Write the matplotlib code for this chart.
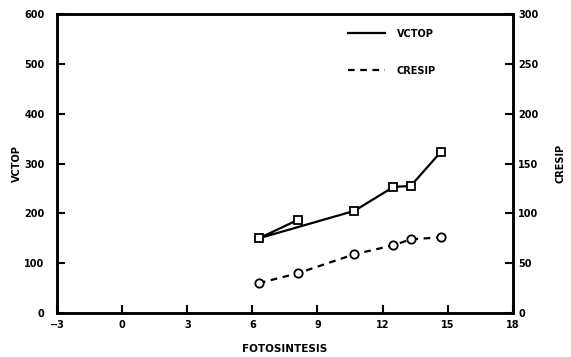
import matplotlib
matplotlib.use("Agg")
import matplotlib.pyplot as plt

# data
vctop_x = [8.1, 6.3, 10.7, 12.5, 13.3, 14.7]
vctop_y = [187, 150, 205, 253, 255, 324]

cresip_x = [6.3, 8.1, 10.7, 12.5, 13.3, 14.7]
cresip_y = [30, 40, 59, 68, 74, 76]

xticks = [-3, 0, 3, 6, 9, 12, 15, 18]
yticks_left = [0, 100, 200, 300, 400, 500, 600]
yticks_right = [0, 50, 100, 150, 200, 250, 300]

plt.rcParams['font.family'] = 'DejaVu Sans'
plt.rcParams['font.weight'] = 'bold'
plt.rcParams['font.size'] = 7

fig = plt.figure(figsize=(5.71, 3.57), dpi=100)
ax = fig.add_axes([0.1, 0.123, 0.798, 0.838])
ax2 = ax.twinx()

l1, = ax.plot(vctop_x, vctop_y, color='black', lw=1.6, marker='s',
              markersize=6, markerfacecolor='white', markeredgewidth=1.3)
l2, = ax2.plot(cresip_x, cresip_y, color='black', lw=1.6, ls=(0, (3, 2.5)),
               marker='o', markersize=6, markerfacecolor='white',
               markeredgewidth=1.3)

ax.set_xlim(-3, 18)
ax.set_ylim(0, 600)
ax2.set_ylim(0, 300)
ax.set_xticks(xticks)
ax.set_yticks(yticks_left)
ax2.set_yticks(yticks_right)

for a in (ax, ax2):
    for s in a.spines.values():
        s.set_linewidth(1.8)
    a.tick_params(direction='in', length=6, width=1.5)
ax.tick_params(axis='x', pad=5)
ax.tick_params(axis='y', pad=9)
ax2.tick_params(axis='y', pad=4)

ax.set_xlabel("FOTOSINTESIS", fontweight='bold', fontsize=7.5, labelpad=10)
ax.set_ylabel("VCTOP", fontweight='bold', labelpad=2)
ax2.set_ylabel("CRESIP", fontweight='bold', labelpad=12)

# legend drawn as lines without markers, no frame
h1 = plt.Line2D([], [], color='black', lw=1.6)
h2 = plt.Line2D([], [], color='black', lw=1.6, ls=(0, (3, 2.5)))
ax.legend([h1, h2], ["VCTOP", "CRESIP"], loc='upper left',
          bbox_to_anchor=(0.62, 0.98), frameon=False, handlelength=3.8,
          labelspacing=2.8, handletextpad=1.2)

fig.savefig("out.png", dpi=100)
